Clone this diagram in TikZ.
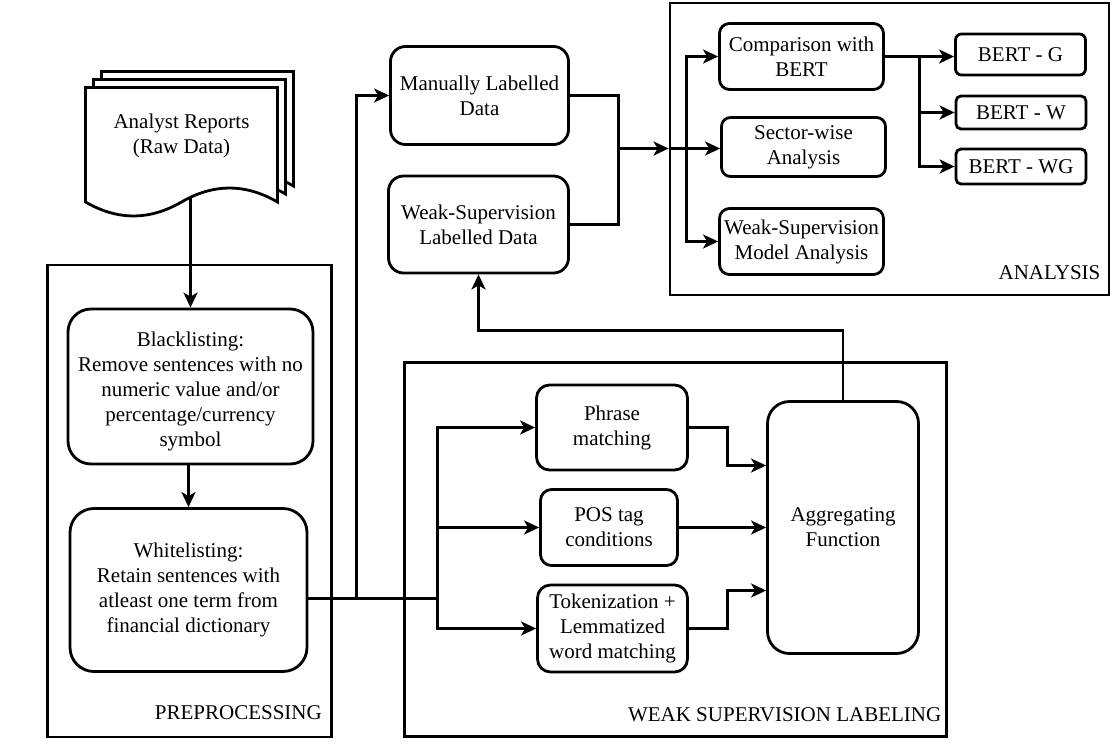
\documentclass[tikz,border=0pt]{standalone}
\usepackage{fontspec}
\setmainfont{Liberation Serif}
\usetikzlibrary{arrows.meta,calc}
\begin{document}
\begin{tikzpicture}[x=1pt,y=-1pt,
  txt/.style={font=\fontsize{21}{25}\selectfont, align=center, inner sep=0pt},
  box/.style={txt, draw, line width=2.8pt, rounded corners=#1, fill=white},
  cont/.style={draw, line width=2.8pt, inner sep=0pt},
  lbl/.style={font=\fontsize{21}{25}\selectfont, inner sep=0pt, anchor=east},
  conn/.style={line width=2.8pt},
  arr/.style={conn, -{Stealth[length=15pt,width=14pt,inset=4pt]}}]
\useasboundingbox (0,0) rectangle (1112,745);

% containers
\node[cont, minimum width=284, minimum height=472] (prep) at (189.5,501) {};
\node[lbl] at (322,713) {PREPROCESSING};
\node[cont, minimum width=542, minimum height=374] (wsl) at (675.5,549.5) {};
\node[lbl] at (941.5,715) {WEAK SUPERVISION LABELING};
\node[cont, minimum width=439, minimum height=292] (anl) at (889.5,149) {};
\node[lbl] at (1100.6,273) {ANALYSIS};

% document stack
\foreach \o in {16,8,0}{
  \filldraw[conn, fill=white, shift={(\o,-\o)}]
    (85.5,87.5) -- (277.5,87.5) -- (277.5,202)
    .. controls (245.5,183.4) and (213.5,183.4) .. (181.5,202)
    .. controls (149.5,220.6) and (117.5,220.6) .. (85.5,202) -- cycle;
}
\node[txt] (doc) at (181.5,136) {Analyst Reports\\(Raw Data)};
\coordinate (docout) at (190.5,197);

% preprocessing
\node[box=23pt, minimum width=245, minimum height=155] (black) at (190.5,386.5)
  {\rule{0pt}{25pt}Blacklisting:\\Remove sentences with no\\numeric value and/or\\percentage/currency\\symbol};
\node[box=24pt, minimum width=237, minimum height=163] (white) at (188.5,590)
  {Whitelisting:\\Retain sentences with\\atleast one term from\\financial dictionary};

% labelled data
\node[box=15pt, minimum width=178, minimum height=98] (manual) at (479.5,95.5)
  {Manually Labelled\\Data};
\node[box=15pt, minimum width=180, minimum height=97] (wsd) at (478.5,224.5)
  {Weak-Supervision\\Labelled Data};

% analysis
\node[box=10pt, minimum width=164, minimum height=66] (comp) at (801.5,56.5)
  {Comparison with\\BERT};
\node[box=9pt, minimum width=164, minimum height=59] (sector) at (803.5,147)
  {Sector-wise\\Analysis};
\node[box=10pt, minimum width=164, minimum height=66] (wsmodel) at (801.5,241.5)
  {Weak-Supervision\\Model Analysis};
\node[box=6pt, minimum width=130, minimum height=41] (bertg) at (1020.5,54.5) {BERT - G};
\node[box=5pt, minimum width=130, minimum height=33] (bertw) at (1021,112.5) {BERT - W};
\node[box=5pt, minimum width=130, minimum height=35] (bertwg) at (1021,166.5) {BERT - WG};

% weak supervision
\node[box=13pt, minimum width=151, minimum height=85] (phrase) at (612,427.5)
  {Phrase\\matching};
\node[box=11pt, minimum width=137, minimum height=76] (pos) at (609,527.5)
  {POS tag\\conditions};
\node[box=13pt, minimum width=150, minimum height=87] (token) at (612.5,628.5)
  {Tokenization +\\Lemmatized\\word matching};
\node[box=22pt, minimum width=151, minimum height=252] (agg) at (843,527.5)
  {Aggregating\\Function};

% coordinates
\coordinate (jm) at (356.5,598.5);
\coordinate (j0) at (437.5,598.5);
\coordinate (k1) at (727.5,465.5);
\coordinate (k3) at (727.5,590.5);
\coordinate (r1) at (478.5,330.5);
\coordinate (jr) at (618.5,148.5);
\coordinate (ja) at (686.5,148.5);
\coordinate (jb) at (919.5,56.5);

% connectors
\draw[arr] (docout) -- (black.north);
\draw[arr] (white.north |- black.south) -- (white.north);
\draw[conn] (white.east |- j0) -- (j0);
\draw[arr] (jm) |- (manual.west);
\draw[arr] (j0) |- (phrase.west);
\draw[arr] (j0) |- (pos.west);
\draw[arr] (j0) |- (token.west);
\draw[arr] (phrase.east) -| (k1) -- (k1 -| agg.west);
\draw[arr] (pos.east) -- (pos.east -| agg.west);
\draw[arr] (token.east) -| (k3) -- (k3 -| agg.west);
\draw[arr] (agg.north) |- (r1) -- (wsd.south);
\draw[conn] (manual.east) -| (jr);
\draw[conn] (wsd.east) -| (jr);
\draw[arr] (jr) -- (jr -| anl.west);
\draw[arr] (jr -| anl.west) -- (jr -| sector.west);
\draw[arr] (ja) |- (comp.west);
\draw[arr] (ja) |- (wsmodel.west);
\draw[arr] (comp.east |- jb) -- (jb) -- (jb -| bertg.west);
\draw[arr] (jb) |- (bertw.west);
\draw[arr] (jb) |- (bertwg.west);
\end{tikzpicture}
\end{document}
